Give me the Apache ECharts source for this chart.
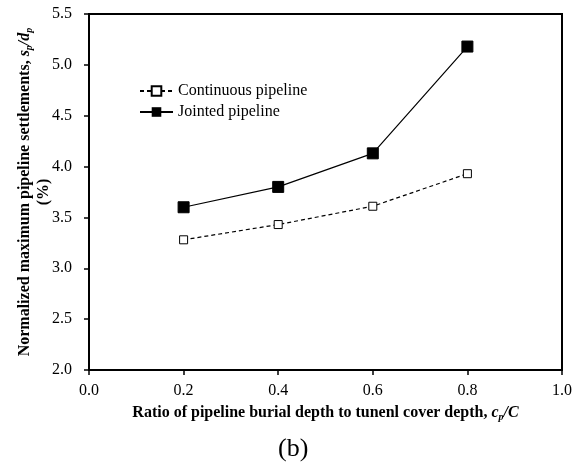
<!DOCTYPE html>
<html>
<head>
<meta charset="utf-8">
<script src="https://cdn.jsdelivr.net/npm/echarts@6/dist/echarts.min.js"></script>
<style>html,body{margin:0;padding:0;background:#fff}#c{width:577px;height:464px}</style>
</head>
<body>
<div id="c"></div>
<script>
var xValues = [0.2, 0.4, 0.6, 0.8];
var continuous = [3.28, 3.43, 3.61, 3.93];
var jointed = [3.60, 3.80, 4.13, 5.18];
var seriesNames = ['Continuous pipeline', 'Jointed pipeline'];

var font = 'Liberation Serif, Times New Roman, serif';
var chart = echarts.init(document.getElementById('c'));
function pairs(v){ return xValues.map(function(x,i){return [x, v[i]];}); }
var richDef = {
  i: { fontStyle: 'italic', fontWeight: 'bold', fontSize: 16, fontFamily: font },
  sub: { fontStyle: 'italic', fontWeight: 'bold', fontSize: 10, fontFamily: font, verticalAlign: 'bottom', padding: [8,0,0,0] }
};
chart.setOption({
  animation: false,
  textStyle: { fontFamily: font },
  grid: { left: 89, right: 15, top: 14, bottom: 94, containLabel: false, outerBoundsMode: 'none',
          show: true, borderColor: '#000', borderWidth: 2, backgroundColor: '#fff' },
  legend: {
    orient: 'vertical', left: 134, top: 78, itemGap: 5, itemWidth: 33, itemHeight: 12,
    textStyle: { fontFamily: font, fontSize: 16, color: '#000' },
    data: seriesNames
  },
  xAxis: {
    type: 'value', min: 0, max: 1, interval: 0.2,
    axisLine: { lineStyle: { color: '#000', width: 2 } },
    axisTick: { show: true, length: 5, lineStyle: { color: '#000', width: 1.5 } },
    splitLine: { show: false },
    axisLabel: { color: '#000', fontSize: 16, fontFamily: font, margin: 13, formatter: function(v){ return v.toFixed(1); } },
    name: 'Ratio of pipeline burial depth to tunenl cover depth, {i|c}{sub|p}{i|/C}',
    nameLocation: 'middle', nameGap: 34, nameMoveOverlap: false,
    nameTextStyle: { color: '#000', fontSize: 16, fontWeight: 'bold', fontFamily: font, rich: richDef }
  },
  yAxis: {
    type: 'value', min: 2.0, max: 5.5, interval: 0.5,
    axisLine: { lineStyle: { color: '#000', width: 2 } },
    axisTick: { show: true, length: 5, lineStyle: { color: '#000', width: 1.5 } },
    splitLine: { show: false },
    axisLabel: { color: '#000', fontSize: 16, fontFamily: font, margin: 17, formatter: function(v){ return v.toFixed(1); } },
    name: 'Normalized maximum pipeline settlements, {i|s}{sub|p}{i|/d}{sub|p}\n(%)',
    nameLocation: 'middle', nameGap: 36, nameRotate: 90, nameMoveOverlap: false,
    nameTextStyle: { color: '#000', fontSize: 16, fontWeight: 'bold', fontFamily: font, lineHeight: 19, rich: richDef }
  },
  graphic: [{ type: 'text', left: 278, top: 436, style: { text: '(b)', font: '26px ' + font, fill: '#000' } }],
  series: [
    { name: seriesNames[0], type: 'line', data: pairs(continuous), symbol: 'rect', symbolSize: 8,
      itemStyle: { color: '#fff', borderColor: '#000', borderWidth: 1 },
      lineStyle: { color: '#000', width: 1.2, type: [4,3] } },
    { name: seriesNames[1], type: 'line', data: pairs(jointed), symbol: 'rect', symbolSize: 11,
      itemStyle: { color: '#000', borderColor: '#000' },
      lineStyle: { color: '#000', width: 1.2 } }
  ]
});
</script>
</body>
</html>
